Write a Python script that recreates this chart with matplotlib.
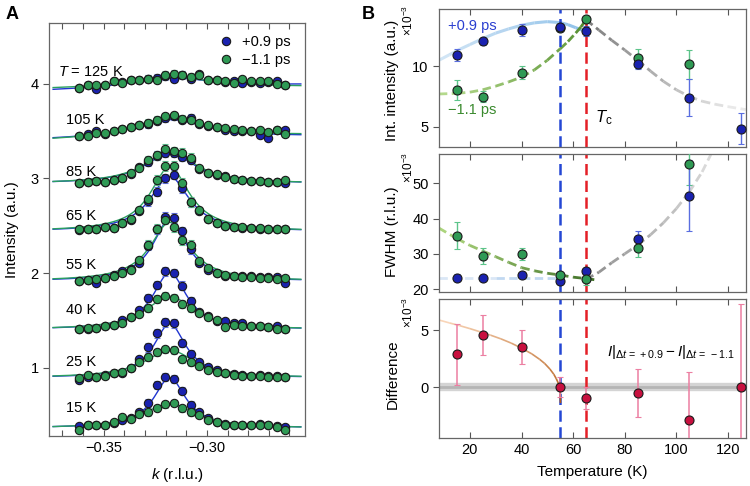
import numpy as np
import matplotlib
matplotlib.use("Agg")
import matplotlib.pyplot as plt

plt.rcParams['font.family'] = ['Liberation Sans', 'DejaVu Sans']
plt.rcParams['mathtext.fontset'] = 'custom'
plt.rcParams['mathtext.rm'] = 'Liberation Sans'
plt.rcParams['mathtext.it'] = 'Liberation Sans:italic'
plt.rcParams['mathtext.bf'] = 'Liberation Sans:bold'

# ---------------- Panel A data ----------------
k_vals = [-0.3618, -0.3576, -0.3535, -0.3493, -0.3452, -0.3410, -0.3368, -0.3327,
          -0.3285, -0.3244, -0.3202, -0.3160, -0.3119, -0.3077, -0.3036, -0.2994,
          -0.2952, -0.2911, -0.2869, -0.2828, -0.2786, -0.2744, -0.2703, -0.2661, -0.2620]
temps_A = [15, 25, 40, 55, 65, 85, 105, 125]
temp_labels = ['15 K', '25 K', '40 K', '55 K', '65 K', '85 K', '105 K', r'$T$ = 125 K']

blue_15 = [0.385, 0.40, 0.40, 0.40, 0.42, 0.45, 0.47, 0.53, 0.63, 0.82, 0.90, 0.88, 0.76, 0.61, 0.53, 0.47, 0.43, 0.41, 0.40, 0.40, 0.40, 0.41, 0.40, 0.385, 0.375]
green_15 = [0.34, 0.394, 0.40, 0.40, 0.423, 0.479, 0.455, 0.507, 0.528, 0.577, 0.613, 0.63, 0.571, 0.528, 0.50, 0.447, 0.423, 0.40, 0.40, 0.40, 0.40, 0.40, 0.40, 0.376, 0.34]
blue_25 = [0.87, 0.905, 0.905, 0.92, 0.94, 0.947, 0.993, 1.089, 1.216, 1.364, 1.48, 1.469, 1.264, 1.145, 1.063, 1.004, 0.976, 0.94, 0.93, 0.92, 0.915, 0.92, 0.915, 0.91, 0.905]
green_25 = [0.888, 0.923, 0.898, 0.915, 0.94, 0.958, 1.0, 1.063, 1.116, 1.163, 1.194, 1.187, 1.089, 1.063, 1.018, 0.976, 0.958, 0.94, 0.923, 0.915, 0.915, 0.915, 0.905, 0.905, 0.898]
blue_40 = [1.411, 1.411, 1.425, 1.436, 1.453, 1.506, 1.531, 1.605, 1.736, 1.876, 2.017, 2.0, 1.866, 1.70, 1.594, 1.549, 1.499, 1.489, 1.471, 1.471, 1.443, 1.436, 1.429, 1.436, 1.411]
green_40 = [1.411, 1.418, 1.425, 1.436, 1.453, 1.471, 1.531, 1.57, 1.63, 1.728, 1.763, 1.742, 1.675, 1.63, 1.577, 1.535, 1.506, 1.429, 1.453, 1.443, 1.436, 1.436, 1.429, 1.411, 1.411]
blue_55 = [1.92, 1.93, 1.90, 1.95, 1.98, 2.02, 2.04, 2.11, 2.29, 2.46, 2.59, 2.58, 2.44, 2.25, 2.11, 2.03, 2.0, 1.965, 1.965, 1.97, 1.97, 1.96, 1.96, 1.96, 1.89]
green_55 = [1.92, 1.93, 1.94, 1.95, 1.97, 2.0, 2.03, 2.14, 2.30, 2.47, 2.565, 2.485, 2.35, 2.30, 2.13, 2.05, 2.0, 1.975, 1.965, 1.96, 1.955, 1.95, 1.945, 1.935, 1.95]
blue_65 = [2.455, 2.46, 2.46, 2.49, 2.48, 2.53, 2.56, 2.66, 2.76, 2.86, 3.0, 3.04, 2.90, 2.745, 2.66, 2.57, 2.53, 2.50, 2.49, 2.48, 2.475, 2.47, 2.465, 2.46, 2.46]
green_65 = [2.46, 2.468, 2.46, 2.49, 2.48, 2.532, 2.567, 2.665, 2.778, 2.98, 3.13, 3.13, 2.955, 2.75, 2.665, 2.567, 2.532, 2.50, 2.49, 2.49, 2.479, 2.479, 2.468, 2.468, 2.46]
blue_85 = [2.955, 2.96, 2.97, 2.96, 2.98, 3.0, 3.05, 3.12, 3.17, 3.24, 3.272, 3.272, 3.229, 3.193, 3.10, 3.06, 3.04, 3.02, 2.99, 2.98, 2.97, 2.97, 2.96, 2.96, 2.948]
green_85 = [2.955, 2.962, 2.972, 2.962, 2.979, 3.007, 3.06, 3.113, 3.193, 3.243, 3.314, 3.289, 3.272, 3.219, 3.113, 3.06, 3.042, 3.018, 2.99, 2.983, 2.972, 2.972, 2.962, 2.962, 2.983]
blue_105 = [3.443, 3.468, 3.503, 3.468, 3.503, 3.521, 3.538, 3.559, 3.574, 3.609, 3.637, 3.654, 3.619, 3.637, 3.574, 3.55, 3.538, 3.514, 3.496, 3.503, 3.50, 3.46, 3.43, 3.51, 3.51]
green_105 = [3.443, 3.443, 3.479, 3.479, 3.503, 3.521, 3.538, 3.559, 3.584, 3.619, 3.654, 3.665, 3.627, 3.619, 3.584, 3.567, 3.538, 3.531, 3.524, 3.514, 3.503, 3.514, 3.489, 3.514, 3.468]
blue_125 = [3.954, 3.982, 3.947, 3.982, 4.025, 4.018, 4.035, 4.042, 4.053, 4.06, 4.078, 4.053, 4.088, 4.053, 4.10, 4.035, 4.042, 4.018, 4.025, 4.007, 4.018, 4.007, 4.018, 4.025, 3.99]
green_125 = [3.954, 3.982, 3.986, 3.982, 4.032, 4.007, 4.039, 4.042, 4.053, 4.042, 4.088, 4.106, 4.095, 4.067, 4.088, 4.042, 4.042, 4.025, 4.007, 4.053, 4.025, 4.025, 4.025, 3.997, 3.99]

blue_scans = [blue_15, blue_25, blue_40, blue_55, blue_65, blue_85, blue_105, blue_125]
green_scans = [green_15, green_25, green_40, green_55, green_65, green_85, green_105, green_125]

# Lorentzian fit parameters (per temperature)
fit_center = -0.318
fit_blue_base = [0.365, 0.895, 1.405, 1.915, 2.44, 2.945, 3.42, 3.95]
fit_blue_amp = [0.53, 0.57, 0.60, 0.65, 0.58, 0.32, 0.20, 0.11]
fit_blue_hwhm = [0.0095, 0.0095, 0.010, 0.010, 0.0115, 0.015, 0.022, 0.025]
fit_blue_slope = [0, 0, 0, 0, 0, 0, 0.3, 0.5]
fit_green_base = [0.36, 0.895, 1.405, 1.915, 2.44, 2.945, 3.42, 3.95]
fit_green_amp = [0.26, 0.29, 0.35, 0.62, 0.68, 0.34, 0.22, 0.12]
fit_green_hwhm = [0.016, 0.015, 0.014, 0.0115, 0.0115, 0.015, 0.022, 0.025]
fit_green_slope = [0, 0, 0, 0, 0, 0, 0.45, 0.2]
err_blue_A = [0.04, 0.045, 0.045, 0.05, 0.05, 0.045, 0.04, 0.04]
err_green_A = [0.035, 0.04, 0.04, 0.05, 0.05, 0.045, 0.04, 0.04]

# ---------------- Panel B data ----------------
T_int_blue = [15, 25, 40, 55, 65, 85, 105, 125]
int_blue = [10.91, 12.07, 13.0, 13.23, 12.95, 10.22, 7.4, 4.81]
int_blue_err = [0.5, 0.3, 0.5, 0.25, 0.4, 0.45, 1.55, 1.3]
T_int_green = [15, 25, 40, 55, 65, 85, 105]
int_green = [8.04, 7.48, 9.47, 13.2, 13.89, 10.66, 10.16]
int_green_err = [0.83, 0.45, 0.55, 0.25, 0.3, 0.8, 1.2]

T_fwhm = [15, 25, 40, 55, 65, 85, 105]
fwhm_blue = [23.3, 23.1, 23.9, 22.4, 25.2, 34.2, 46.5]
fwhm_blue_err = [1.0, 0.6, 0.8, 0.8, 0.8, 2.2, 10.0]
fwhm_green = [35.2, 29.4, 30.0, 24.0, 22.8, 31.6, 55.4]
fwhm_green_err = [3.7, 2.2, 1.7, 1.0, 1.5, 2.5, 6.0]

T_diff = [15, 25, 40, 55, 65, 85, 105, 125]
diff_vals = [2.9, 4.57, 3.53, 0.03, -0.95, -0.49, -2.83, 0.0]
diff_err = [2.65, 1.75, 1.5, 0.9, 0.95, 2.1, 4.2, 7.3]

# guide-to-the-eye curves
gi_blue_T = [8, 12, 16, 20, 25, 30, 35, 40, 45, 50, 55, 58, 61, 64]
gi_blue_y = [10.5, 10.95, 11.4, 11.8, 12.3, 12.75, 13.1, 13.4, 13.6, 13.7, 13.62, 13.45, 13.2, 12.95]
gi_green_T = [8, 15, 20, 25, 30, 35, 40, 45, 50, 55, 58, 61, 63, 65]
gi_green_y = [7.7, 7.75, 7.85, 8.05, 8.35, 8.7, 9.1, 9.7, 10.5, 11.45, 12.05, 12.75, 13.25, 13.85]
gi_gray_T = [65, 70, 75, 80, 85, 90, 95, 100, 105, 110, 115, 120, 127]
gi_gray_y = [13.85, 13.0, 12.15, 11.35, 10.5, 9.6, 8.75, 8.05, 7.5, 7.1, 6.85, 6.65, 6.4]

gf_green_T = [8, 15, 20, 25, 30, 35, 40, 45, 50, 55, 60, 65, 69]
gf_green_y = [37.3, 34.3, 32.4, 30.8, 29.2, 27.6, 26.1, 25.2, 24.5, 24.0, 23.4, 23.0, 22.6]
gf_blue_T = [8, 30, 55]
gf_blue_y = [23.2, 23.2, 23.2]
gf_gray_T = [65, 70, 75, 80, 85, 90, 95, 100, 105, 110, 113.5]
gf_gray_y = [22.8, 24.8, 27.5, 30.0, 32.5, 35.4, 38.8, 42.8, 47.5, 53.2, 58.3]

gd_T = [8, 12, 16, 20, 24, 28, 32, 36, 40, 44, 47, 49, 51, 52.5, 53.5, 54.3, 54.8, 55.0, 55.1]
gd_y = [5.87, 5.62, 5.38, 5.12, 4.84, 4.55, 4.23, 3.86, 3.42, 2.92, 2.45, 2.08, 1.6, 1.15, 0.75, 0.35, 0.0, -0.5, -1.35]

T_onset = 55
T_c = 65

# ---------------- style ----------------
C_BLUE = '#1a22b0'
C_GREEN = '#2f9a55'
C_BLUE_LINE = '#2035d0'
C_GREEN_LINE = '#2aa060'
C_EDGE = '#1a1a1a'
C_CRIM = '#c8103f'

fig = plt.figure(figsize=(7.5, 4.86), dpi=100)

# ================= Panel A =================
axA = fig.add_axes([0.0653, 0.1029, 0.3413, 0.8498])
k = np.array(k_vals)
kfit = np.linspace(-0.3745, -0.2545, 400)
peak = slice(8, 14)
for j in range(len(temps_A)):
    yb = fit_blue_base[j] + fit_blue_slope[j] * (kfit - fit_center) + \
        fit_blue_amp[j] / (1 + ((kfit - fit_center) / fit_blue_hwhm[j]) ** 2)
    yg = fit_green_base[j] + fit_green_slope[j] * (kfit - fit_center) + \
        fit_green_amp[j] / (1 + ((kfit - fit_center) / fit_green_hwhm[j]) ** 2)
    axA.plot(kfit, yb, color=C_BLUE_LINE, lw=1.0, zorder=2)
    axA.plot(kfit, yg, color=C_GREEN_LINE, lw=1.0, zorder=2)
    b = np.array(blue_scans[j]); g = np.array(green_scans[j])
    axA.errorbar(k[peak], b[peak], yerr=err_blue_A[j], fmt='none', ecolor='#6070e0',
                 elinewidth=0.8, capsize=2, capthick=0.8, zorder=3)
    axA.errorbar(k[peak], g[peak], yerr=err_green_A[j], fmt='none', ecolor='#60c090',
                 elinewidth=0.8, capsize=2, capthick=0.8, zorder=3)
    axA.plot(k, b, 'o', ms=6, mfc=C_BLUE, mec=C_EDGE, mew=0.8, zorder=4,
             label='+0.9 ps' if j == 0 else None)
    axA.plot(k, g, 'o', ms=6, mfc=C_GREEN, mec=C_EDGE, mew=0.8, zorder=5,
             label='\u22121.1 ps' if j == 0 else None)

label_pos = [(-0.3683, 0.571), (-0.3683, 1.057), (-0.3683, 1.612), (-0.3683, 2.088),
             (-0.3683, 2.598), (-0.3683, 3.063), (-0.3683, 3.62), (-0.3721, 4.127)]
for (x, y), lab in zip(label_pos, temp_labels):
    axA.text(x, y, lab, fontsize=10.5, ha='left', va='center', zorder=6)

axA.set_xlim(-0.3765, -0.2525)
axA.set_ylim(0.28, 4.64)
axA.set_xticks([-0.35, -0.30])
axA.set_xticklabels(['\u22120.35', '\u22120.30'])
axA.set_xticks(np.arange(-0.37, -0.25, 0.01), minor=True)
axA.set_yticks([1, 2, 3, 4])
axA.tick_params(axis='x', which='both', direction='in', top=True, length=4, width=0.8,
                labelsize=10.5, colors='#555555', labelcolor='black')
axA.tick_params(axis='y', direction='out', length=4, width=0.8, labelsize=10.5,
                colors='#555555', labelcolor='black')
for s in axA.spines.values():
    s.set_color('#666666'); s.set_linewidth(0.9)
axA.set_xlabel(r'$k$ (r.l.u.)', fontsize=11, labelpad=8)
axA.set_ylabel('Intensity (a.u.)', fontsize=11, labelpad=8)
leg = axA.legend(loc='upper right', frameon=False, fontsize=10.5, handletextpad=0.1,
                 borderaxespad=0.3, labelspacing=0.25, markerscale=1.0,
                 bbox_to_anchor=(0.985, 0.995))

fig.text(0.008, 0.97, 'A', fontsize=13, fontweight='bold', va='center')
fig.text(0.482, 0.97, 'B', fontsize=13, fontweight='bold', va='center')

# ================= Panel B =================
left, width = 0.5853, 0.4093
axT = fig.add_axes([left, 0.6975, width, 0.284])
axM = fig.add_axes([left, 0.3992, width, 0.284])
axD = fig.add_axes([left, 0.0988, width, 0.286])


def gradient_line(ax, xs, ys, c0, c1, lw=2.0, dashed=False, alpha0=1.0, alpha1=1.0, z=1):
    c0 = np.array(matplotlib.colors.to_rgb(c0)); c1 = np.array(matplotlib.colors.to_rgb(c1))
    n = len(xs) - 1
    for i in range(n):
        t = (i + 0.5) / n
        col = tuple(c0 * (1 - t) + c1 * t)
        a = alpha0 * (1 - t) + alpha1 * t
        ax.plot(xs[i:i + 2], ys[i:i + 2], color=col, alpha=a, lw=lw,
                ls=(0, (3.0, 1.6)) if dashed else '-', solid_capstyle='butt',
                dash_capstyle='butt', zorder=z)


for ax in (axT, axM, axD):
    ax.axvline(T_onset, color='#2447d4', lw=1.8, ls=(0, (4.5, 2.2)), zorder=2)
    ax.axvline(T_c, color='#e41f26', lw=1.8, ls=(0, (4.5, 2.2)), zorder=2)
    ax.set_xlim(8, 127)
    ax.set_xticks([20, 40, 60, 80, 100, 120])
    ax.tick_params(axis='x', direction='in', top=True, length=4, width=0.8,
                   labelsize=10.5, colors='#555555', labelcolor='black')
    ax.tick_params(axis='y', direction='out', length=4, width=0.8, labelsize=10.5,
                   colors='#555555', labelcolor='black')
    for s in ax.spines.values():
        s.set_color('#666666'); s.set_linewidth(0.9)
axT.tick_params(labelbottom=False)
axM.tick_params(labelbottom=False)

# --- top: integrated intensity
gradient_line(axT, gi_blue_T, gi_blue_y, '#d4e6f6', '#8cbfe8', lw=2.2, z=1)
gradient_line(axT, gi_green_T, gi_green_y, '#b8dc90', '#4f8a2a', lw=2.0, dashed=True, z=1)
gradient_line(axT, gi_gray_T, gi_gray_y, '#7a7a7a', '#eeeeee', lw=2.0, dashed=True, z=1)
axT.errorbar(T_int_green, int_green, yerr=int_green_err, fmt='none', ecolor='#5cc48a',
             elinewidth=1.0, capsize=2, capthick=0.8, zorder=3)
axT.errorbar(T_int_blue, int_blue, yerr=int_blue_err, fmt='none', ecolor='#5a6ee0',
             elinewidth=1.0, capsize=2, capthick=0.8, zorder=3)
axT.plot(T_int_green, int_green, 'o', ms=6.5, mfc=C_GREEN, mec=C_EDGE, mew=0.8, zorder=4)
axT.plot(T_int_blue, int_blue, 'o', ms=6.5, mfc=C_BLUE, mec=C_EDGE, mew=0.8, zorder=5)
axT.set_ylim(3.3, 14.75)
axT.set_yticks([5, 10])
axT.text(11.5, 13.35, '+0.9 ps', color='#2a3fd0', fontsize=10.5, va='center', ha='left')
axT.text(11.5, 6.38, '\u22121.1 ps', color='#3a8a2e', fontsize=10.5, va='center', ha='left')
axT.text(68.5, 5.7, r'$T_{\mathrm{c}}$', fontsize=12, va='center', ha='left')

# --- middle: FWHM
gradient_line(axM, gf_blue_T, gf_blue_y, '#e6eff9', '#b4d0ee', lw=2.0, dashed=True, z=1)
gradient_line(axM, gf_green_T, gf_green_y, '#b0d880', '#3d6e25', lw=2.0, dashed=True, z=1)
gradient_line(axM, gf_gray_T, gf_gray_y, '#8a8a8a', '#dddddd', lw=2.0, dashed=True, z=1)
axM.errorbar(T_fwhm, fwhm_green, yerr=fwhm_green_err, fmt='none', ecolor='#5cc48a',
             elinewidth=1.0, capsize=2, capthick=0.8, zorder=3)
axM.errorbar(T_fwhm, fwhm_blue, yerr=fwhm_blue_err, fmt='none', ecolor='#5a6ee0',
             elinewidth=1.0, capsize=2, capthick=0.8, zorder=3)
axM.plot(T_fwhm, fwhm_blue, 'o', ms=6.5, mfc=C_BLUE, mec=C_EDGE, mew=0.8, zorder=4)
axM.plot(T_fwhm, fwhm_green, 'o', ms=6.5, mfc=C_GREEN, mec=C_EDGE, mew=0.8, zorder=5)
axM.set_ylim(19.2, 58.3)
axM.set_yticks([20, 30, 40, 50])

# --- bottom: difference
axD.axhline(0, color='#d4d4d4', lw=6, zorder=1)
axD.axhline(0, color='#b5b5b5', lw=2, zorder=1)
gradient_line(axD, gd_T, gd_y, '#fbd9bd', '#b0560f', lw=1.2, z=2)
axD.errorbar(T_diff, diff_vals, yerr=diff_err, fmt='none', ecolor='#ec7fa2',
             elinewidth=1.1, capsize=2, capthick=0.8, zorder=3)
axD.plot(T_diff, diff_vals, 'o', ms=6.5, mfc=C_CRIM, mec=C_EDGE, mew=0.8, zorder=4)
axD.set_ylim(-4.4, 7.7)
axD.set_yticks([0, 5])
axD.set_xlabel('Temperature (K)', fontsize=11, labelpad=6)
axD.text(73, 3.1, r'$I|_{\Delta t\,=\,+0.9} - I|_{\Delta t\,=\,-1.1}$', fontsize=11,
         ha='left', va='center')

# y labels and multipliers
fig.text(0.523, 1 - 80 / 486, 'Int. intensity (a.u.)', rotation=90, fontsize=11,
         ha='center', va='center')
fig.text(0.523, 1 - 232 / 486, 'FWHM (r.l.u.)', rotation=90, fontsize=11,
         ha='center', va='center')
fig.text(0.523, 1 - 374 / 486, 'Difference', rotation=90, fontsize=11,
         ha='center', va='center')
for ytop in (0.99, 0.688, 0.39):
    fig.text(0.545, ytop, r'$\times10^{-3}$', rotation=90, fontsize=8.5,
             ha='center', va='top')

fig.savefig('out.png', dpi=100)
